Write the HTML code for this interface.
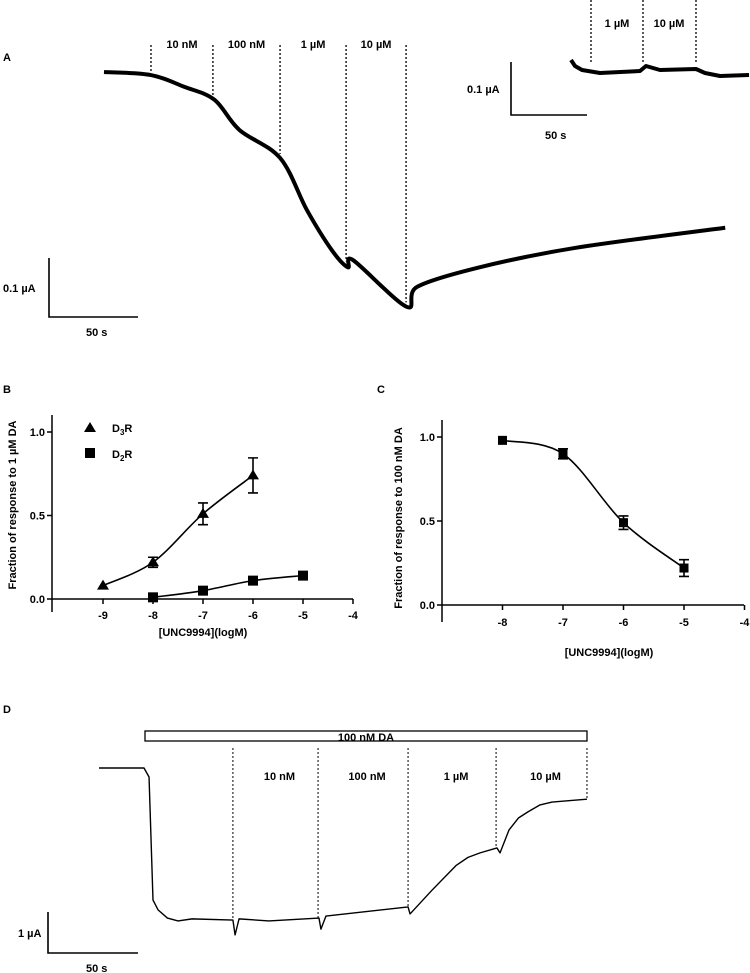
<!DOCTYPE html>
<html><head><meta charset="utf-8"><style>
body{margin:0;background:#fff;}
svg{display:block;font-family:"Liberation Sans",sans-serif;font-weight:bold;}
text{font-size:11px;fill:#000;}
</style></head><body>
<svg id="fig" width="750" height="973" viewBox="0 0 750 973" xmlns="http://www.w3.org/2000/svg">
<g id="A"><text x="3" y="61">A</text></g>
<g id="B"><text x="3" y="393">B</text></g>
<g id="C"><text x="377" y="393">C</text></g>
<g id="D"><text x="3" y="713">D</text></g>
</svg>
<script>
// ---- Panel A data (time s, current nA relative) ----
const aTime=[0,26,45,62,76,99,114,128,137,140,170,176,211,265,349];
const aCurr=[0,-5,-25,-47,-98,-146,-234,-302,-331,-319,-398,-364,-331,-298,-264];
const aDoseTimes=[26.4,61.2,98.9,136,169.7];
const aDoseLabels=["10 nM","100 nM","1 µM","10 µM"];
const insetDoseLabels=["1 µM","10 µM"];
// ---- Panel B data ----
const bLogX=[-9,-8,-7,-6];
const bD3=[0.08,0.22,0.51,0.74];
const bD3Err=[0,0.03,0.065,0.105];
const bLogX2=[-8,-7,-6,-5];
const bD2=[0.01,0.05,0.11,0.14];
const bXTicks=[-9,-8,-7,-6,-5,-4];
const bYTicks=[0,0.5,1.0];
// ---- Panel C data ----
const cLogX=[-8,-7,-6,-5];
const cVal=[0.98,0.90,0.49,0.22];
const cErr=[0,0.03,0.04,0.05];
const cXTicks=[-8,-7,-6,-5,-4];
const cYTicks=[0,0.5,1.0];
// ---- Panel D data (time s, current µA relative) ----
const dTime=[0,25,27.8,30,32.8,38,43.9,51.7,74.4,75.6,77.8,94.4,122.2,123.3,126.1,171.7,172.8,185,198.3,205,211.7,221.1,222.8,227.8,233,238.3,245,251.7,271.1];
const dCurr=[0,0,-0.22,-3.22,-3.46,-3.66,-3.73,-3.68,-3.71,-4.07,-3.68,-3.73,-3.66,-3.93,-3.61,-3.39,-3.56,-2.98,-2.38,-2.18,-2.07,-1.95,-2.07,-1.51,-1.22,-1.07,-0.9,-0.83,-0.76];
const dDoseTimes=[74.4,121.7,171.7,220.6,271.1];
const dDoseLabels=["10 nM","100 nM","1 µM","10 µM"];

const NS="http://www.w3.org/2000/svg";
function mk(p,tag,at,txt){const e=document.createElementNS(NS,tag);for(const k in at)e.setAttribute(k,at[k]);if(txt!==undefined)e.textContent=txt;p.appendChild(e);return e;}
function fmt(v){return v.toFixed(1);}
function smooth(pts){let d='M'+pts[0][0]+','+pts[0][1];
 for(let i=0;i<pts.length-1;i++){const p0=pts[Math.max(0,i-1)],p1=pts[i],p2=pts[i+1],p3=pts[Math.min(pts.length-1,i+2)];
 d+=' C'+(p1[0]+(p2[0]-p0[0])/6)+','+(p1[1]+(p2[1]-p0[1])/6)+' '+(p2[0]-(p3[0]-p1[0])/6)+','+(p2[1]-(p3[1]-p1[1])/6)+' '+p2[0]+','+p2[1];}
 return d;}

// ===== Panel A =====
(function(){
const g=document.getElementById('A');
const X=t=>104+t*1.78, Y=i=>72-i*0.59;
const tr=mk(g,'path',{d:smooth(aTime.map((t,k)=>[X(t),Y(aCurr[k])])),fill:'none',stroke:'#000','stroke-width':4,'stroke-linejoin':'round'});


aDoseTimes.forEach((t,k)=>{
  const x=X(t);let yEnd=Y(aCurr[0]);
  for(let j=1;j<aTime.length;j++){if(aTime[j]>=t){const f=(t-aTime[j-1])/(aTime[j]-aTime[j-1]);yEnd=Y(aCurr[j-1]+f*(aCurr[j]-aCurr[j-1]));break;}}
  const l=mk(g,'line',{x1:x,y1:45,x2:x,y2:yEnd-4,stroke:'#000','stroke-width':1.3,'stroke-dasharray':'2,2'});
  
  
  if(k<aDoseLabels.length){const tx=mk(g,'text',{x:(x+X(aDoseTimes[k+1]))/2,y:48,'text-anchor':'middle'},aDoseLabels[k]);
  
  }
});
const sb=mk(g,'path',{d:'M49,258 V317 H138',fill:'none',stroke:'#000','stroke-width':1.6});


const s1=mk(g,'text',{x:3,y:292},'0.1 µA');
const s2=mk(g,'text',{x:86,y:336},'50 s');
// inset
const it=mk(g,'path',{d:'M571,60 L575,66 L582,70 L600,73 L640,71 L646,66 L660,70 L696,69 L705,73 L720,76 L749,75',fill:'none',stroke:'#000','stroke-width':4,'stroke-linejoin':'round'});


[591,643,696].forEach((x,k)=>{
  const l=mk(g,'line',{x1:x,y1:0,x2:x,y2:62,stroke:'#000','stroke-width':1.3,'stroke-dasharray':'2,2'});
  
  
});
insetDoseLabels.forEach((s,k)=>{const tx=mk(g,'text',{x:[617,669][k],y:27,'text-anchor':'middle'},s);
  
  });
const sb2=mk(g,'path',{d:'M511,62 V115 H587',fill:'none',stroke:'#000','stroke-width':1.6});


const s3=mk(g,'text',{x:467,y:93},'0.1 µA');
const s4=mk(g,'text',{x:545,y:139},'50 s');
})();

// ===== Panel B =====
(function(){
const g=document.getElementById('B');
const X=v=>53+(v+10)*50, Y=v=>599-v*167;
const ax=mk(g,'path',{d:'M52,415 V612 M52,599 H353',fill:'none',stroke:'#000','stroke-width':1.5});

bXTicks.forEach(v=>{mk(g,'line',{x1:X(v),y1:599,x2:X(v),y2:604,stroke:'#000','stroke-width':1.5});
 const t=mk(g,'text',{x:X(v),y:619,'text-anchor':'middle'},String(v));});
bYTicks.forEach(v=>{mk(g,'line',{x1:47,y1:Y(v),x2:52,y2:Y(v),stroke:'#000','stroke-width':1.5});
 const t=mk(g,'text',{x:45,y:Y(v)+4,'text-anchor':'end'},fmt(v));});
const xt=mk(g,'text',{x:203,y:636,'text-anchor':'middle','font-size':'12'},'[UNC9994](logM)');
const yt=mk(g,'text',{x:0,y:0,'text-anchor':'middle','font-size':'12',transform:'translate(16,505) rotate(-90)'},'Fraction of response to 1 µM DA');
const c1=mk(g,'path',{d:smooth(bLogX.map((x,i)=>[X(x),Y(bD3[i])])),fill:'none',stroke:'#000','stroke-width':1.6});

const c2=mk(g,'path',{d:smooth(bLogX2.map((x,i)=>[X(x),Y(bD2[i])])),fill:'none',stroke:'#000','stroke-width':1.6});

bLogX.forEach((x,i)=>{const cx=X(x),cy=Y(bD3[i]);
 if(bD3Err[i]>0){const e=mk(g,'path',{d:`M${cx},${Y(bD3[i]+bD3Err[i])} V${Y(bD3[i]-bD3Err[i])} M${cx-5},${Y(bD3[i]+bD3Err[i])} h10 M${cx-5},${Y(bD3[i]-bD3Err[i])} h10`,stroke:'#000','stroke-width':1.6,fill:'none'});
 }
 const p=mk(g,'polygon',{points:`${cx},${cy-6} ${cx-6},${cy+4} ${cx+6},${cy+4}`,fill:'#000'});
 });
bLogX2.forEach((x,i)=>{const cx=X(x),cy=Y(bD2[i]);
 const p=mk(g,'rect',{x:cx-5,y:cy-5,width:10,height:10,fill:'#000'});
 });
const l1=mk(g,'polygon',{points:'90,422 84,432 96,432',fill:'#000'});
const l2=mk(g,'rect',{x:85,y:448,width:10,height:10,fill:'#000'});
const t1=mk(g,'text',{x:112,y:432,'font-size':'12'});t1.innerHTML='D<tspan font-size="8" dy="3">3</tspan><tspan dy="-3">R</tspan>';
const t2=mk(g,'text',{x:112,y:458,'font-size':'12'});t2.innerHTML='D<tspan font-size="8" dy="3">2</tspan><tspan dy="-3">R</tspan>';
})();

// ===== Panel C =====
(function(){
const g=document.getElementById('C');
const X=v=>442+(v+9)*60.5, Y=v=>605-v*168;
const ax=mk(g,'path',{d:'M442,420 V622 M442,605 H744',fill:'none',stroke:'#000','stroke-width':1.5});

cXTicks.forEach(v=>{mk(g,'line',{x1:X(v),y1:605,x2:X(v),y2:610,stroke:'#000','stroke-width':1.5});
 const t=mk(g,'text',{x:X(v),y:626,'text-anchor':'middle'},String(v));});
cYTicks.forEach(v=>{mk(g,'line',{x1:437,y1:Y(v),x2:442,y2:Y(v),stroke:'#000','stroke-width':1.5});
 const t=mk(g,'text',{x:435,y:Y(v)+4,'text-anchor':'end'},fmt(v));});
const xt=mk(g,'text',{x:609,y:656,'text-anchor':'middle','font-size':'12'},'[UNC9994](logM)');
const yt=mk(g,'text',{x:0,y:0,'text-anchor':'middle','font-size':'12',transform:'translate(402,518) rotate(-90)'},'Fraction of response to 100 nM DA');
const c=mk(g,'path',{d:smooth(cLogX.map((x,i)=>[X(x),Y(cVal[i])])),fill:'none',stroke:'#000','stroke-width':1.6});

cLogX.forEach((x,i)=>{const cx=X(x),cy=Y(cVal[i]);
 if(cErr[i]>0){const e=mk(g,'path',{d:`M${cx},${Y(cVal[i]+cErr[i])} V${Y(cVal[i]-cErr[i])} M${cx-5},${Y(cVal[i]+cErr[i])} h10 M${cx-5},${Y(cVal[i]-cErr[i])} h10`,stroke:'#000','stroke-width':1.6,fill:'none'});
 }
 const p=mk(g,'rect',{x:cx-4.5,y:cy-4.5,width:9,height:9,fill:'#000'});
 });
})();

// ===== Panel D =====
(function(){
const g=document.getElementById('D');
const X=t=>99+t*1.8, Y=i=>768-i*41;
const bar=mk(g,'rect',{x:145,y:731,width:442,height:10,fill:'#fff',stroke:'#000','stroke-width':1.3});

const bt=mk(g,'text',{x:366,y:741,'text-anchor':'middle'},'100 nM DA');
const tr=mk(g,'polyline',{points:dTime.map((t,k)=>X(t)+','+Y(dCurr[k])).join(' '),fill:'none',stroke:'#000','stroke-width':1.4,'stroke-linejoin':'round'});

dDoseTimes.forEach((t,k)=>{const x=X(t);let yEnd=Y(dCurr[0]);
 for(let j=1;j<dTime.length;j++){if(dTime[j]>=t){const f=(t-dTime[j-1])/(dTime[j]-dTime[j-1]);yEnd=Y(dCurr[j-1]+f*(dCurr[j]-dCurr[j-1]));break;}}
 const l=mk(g,'line',{x1:x,y1:748,x2:x,y2:yEnd,stroke:'#000','stroke-width':1,'stroke-dasharray':'2,2'});
 
 if(k<dDoseLabels.length){const tx=mk(g,'text',{x:(x+X(dDoseTimes[k+1]))/2+4,y:780,'text-anchor':'middle'},dDoseLabels[k]);
 }});
const sb=mk(g,'path',{d:'M48,912 V953 H138',fill:'none',stroke:'#000','stroke-width':1.6});

const s1=mk(g,'text',{x:18,y:937},'1 µA');
const s2=mk(g,'text',{x:86,y:972},'50 s');
})();
</script>
</body></html>
